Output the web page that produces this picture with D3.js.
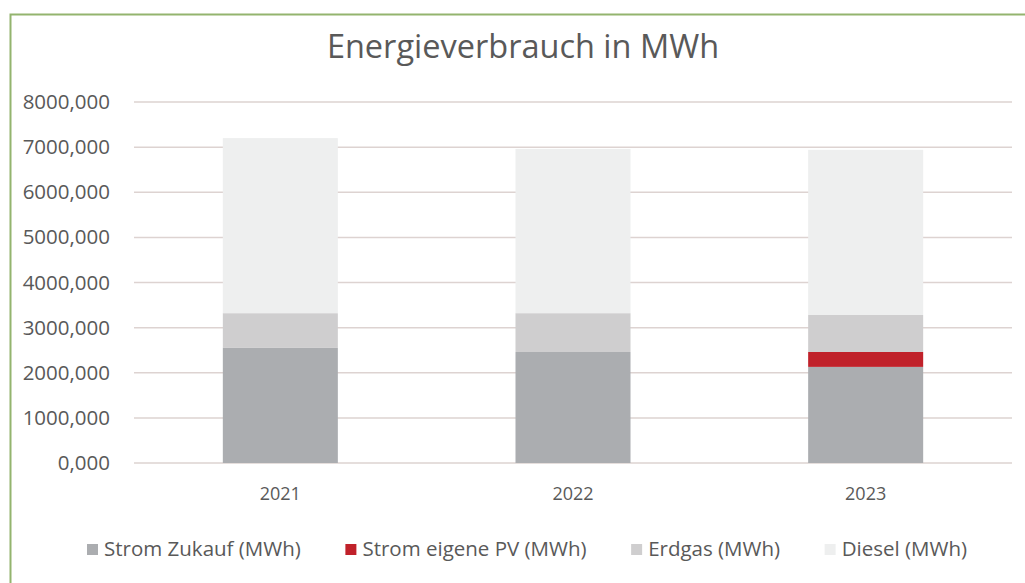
<!DOCTYPE html>
<html>
<head>
<meta charset="utf-8">
<script src="https://cdn.jsdelivr.net/npm/d3@7"></script>
<style>
  body { margin: 0; background: #fff; }
  svg { display: block; font-family: "Open Sans", sans-serif; }
</style>
</head>
<body>
<svg id="chart" width="1025" height="583"></svg>
<script>
var years = ["2021", "2022", "2023"];
var stromZukauf = [2550, 2460, 2130];
var stromPV = [0, 0, 330];
var erdgas = [770, 860, 820];
var diesel = [3880, 3640, 3660];
var seriesNames = ["Strom Zukauf (MWh)", "Strom eigene PV (MWh)", "Erdgas (MWh)", "Diesel (MWh)"];
var yTicks = [0, 1000, 2000, 3000, 4000, 5000, 6000, 7000, 8000];
var color = ["#abadb0", "#c0212a", "#cfcecf", "#eeefef"];

var svg = d3.select("#chart");

// frame (only left and top visible)
svg.append("path")
  .attr("d", "M10.5,583 L10.5,14.5 L1025,14.5")
  .attr("fill", "none")
  .attr("stroke", "#93b46e")
  .attr("stroke-width", 2);

// title
svg.append("text")
  .attr("x", 523).attr("y", 58)
  .attr("text-anchor", "middle")
  .attr("fill", "#595959")
  .style("font-size", "32.5px")
  .text("Energieverbrauch in MWh");

var xScale = d3.scaleBand()
  .domain(years)
  .range([134, 1012])
  .paddingInner(0.607)
  .paddingOuter(0.3035);

var yScale = d3.scaleLinear()
  .domain([0, 8000])
  .range([463, 102]);

// grid
svg.append("g")
  .selectAll("line")
  .data(yTicks)
  .enter()
  .append("line")
    .attr("x1", 134).attr("x2", 1012)
    .attr("y1", function(d) { return yScale(d); })
    .attr("y2", function(d) { return yScale(d); })
    .attr("stroke", "#ddd3d1")
    .attr("stroke-width", 1.5);

// y labels
var fmt = function(d) { return d3.format(".3f")(d).replace(".", ","); };
svg.append("g")
  .selectAll("text")
  .data(yTicks)
  .enter()
  .append("text")
    .attr("x", 110)
    .attr("y", function(d) { return yScale(d) + 7; })
    .attr("text-anchor", "end")
    .attr("fill", "#595959")
    .style("font-size", "20.5px")
    .text(fmt);

// stacked bars
var rows = years.map(function(y, i) {
  return { year: y, s0: stromZukauf[i], s1: stromPV[i], s2: erdgas[i], s3: diesel[i] };
});
var stack = d3.stack().keys(["s0", "s1", "s2", "s3"]);
var layers = stack(rows);

svg.append("g")
  .selectAll("g")
  .data(layers)
  .enter()
  .append("g")
    .attr("fill", function(d, i) { return color[i]; })
  .selectAll("rect")
  .data(function(d) { return d; })
  .enter()
  .append("rect")
    .attr("x", function(d) { return xScale(d.data.year); })
    .attr("width", xScale.bandwidth())
    .attr("y", function(d) { return yScale(d[1]); })
    .attr("height", function(d) { return yScale(d[0]) - yScale(d[1]); });

// x labels
svg.append("g")
  .selectAll("text")
  .data(years)
  .enter()
  .append("text")
    .attr("x", function(d) { return xScale(d) + xScale.bandwidth() / 2; })
    .attr("y", 500)
    .attr("text-anchor", "middle")
    .attr("fill", "#595959")
    .style("font-size", "18px")
    .text(function(d) { return d; });

// legend
var legend = svg.append("g");
var items = legend.selectAll("g")
  .data(seriesNames)
  .enter()
  .append("g");
items.append("rect")
  .attr("width", 11).attr("height", 11)
  .attr("y", -12)
  .attr("fill", function(d, i) { return color[i]; });
items.append("text")
  .attr("x", 17)
  .attr("fill", "#595959")
  .style("font-size", "20.5px")
  .text(function(d) { return d; });

var widths = [];
items.each(function() { widths.push(this.getBBox().width); });
var gap = (880 - d3.sum(widths)) / (widths.length - 1);
var xPos = 87;
items.attr("transform", function(d, i) {
  var t = "translate(" + xPos + ",556)";
  xPos += widths[i] + gap;
  return t;
});
</script>
</body>
</html>
